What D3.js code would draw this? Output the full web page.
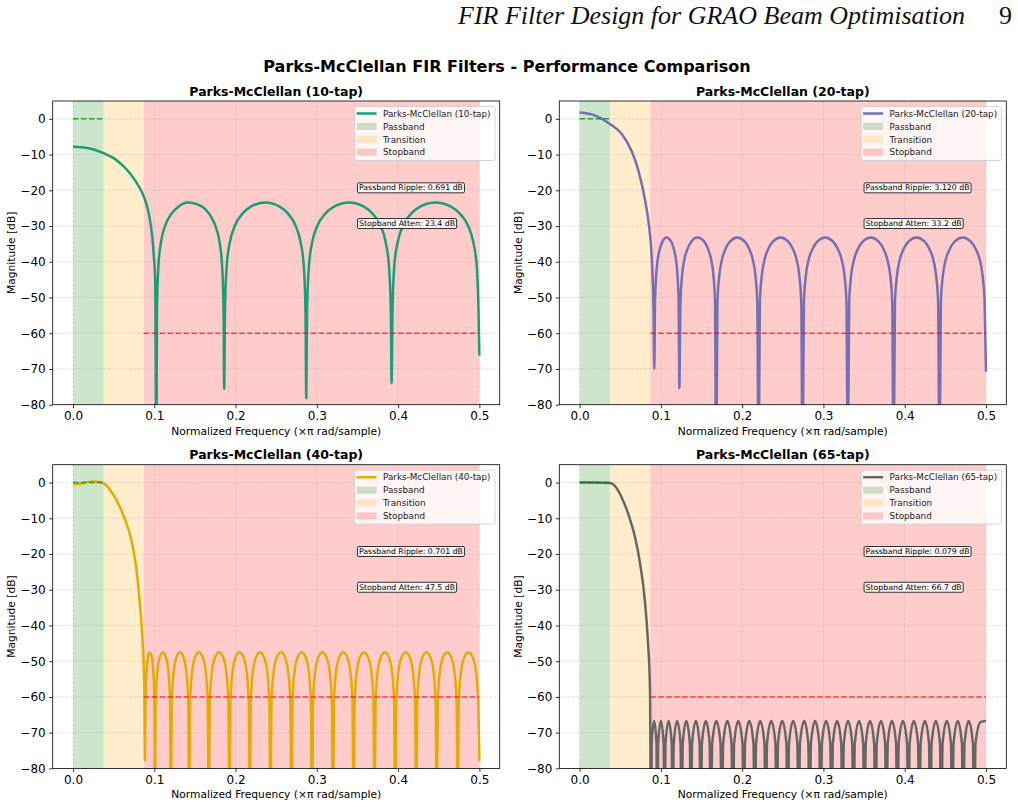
<!DOCTYPE html>
<html><head><meta charset="utf-8">
<script src="https://cdn.jsdelivr.net/npm/d3@7"></script>
<style>body{margin:0;background:#fff}svg{display:block}</style>
</head><body><svg id="c" width="1018" height="807"></svg>
<script>
// ---------- data ----------
const freqTicks = [0, 0.1, 0.2, 0.3, 0.4, 0.5];
const magTicks = [0, -10, -20, -30, -40, -50, -60, -70, -80];
const tapCounts = [10, 20, 40, 65];
const passRipple = ["0.691", "3.120", "0.701", "0.079"];
const stopAtten = ["23.4", "33.2", "47.5", "66.7"];
const passEdge = 0.0375, stopEdge = 0.087, bandEnd = 0.5, stopSpec = -60;

const tap10 = [[0,-7.8],[0.019,-8.2],[0.0377,-9.6],[0.05,-11],[0.06,-12.8],[0.07,-15.2],[0.078,-17.8],[0.085,-20.6],[0.09,-23.6],[0.094,-27.5],[0.097,-32],[0.0995,-38.5],[0.1012,-46],[0.1025,-100],
 [0.1033,-53.4],[0.105,-41.4],[0.1083,-34.4],[0.1134,-29.9],[0.1209,-26.6],[0.1301,-24.5],[0.141,-23.4],[0.1584,-24.5],[0.1676,-26.6],[0.1751,-29.9],[0.1802,-34.4],[0.1835,-41.4],[0.1852,-53.4],[0.186,-75.6],
 [0.187,-53.4],[0.189,-41.4],[0.1931,-34.4],[0.1991,-29.9],[0.2082,-26.6],[0.2193,-24.5],[0.2365,-23.4],[0.2537,-24.5],[0.2648,-26.6],[0.2739,-29.9],[0.2799,-34.4],[0.284,-41.4],[0.286,-53.4],[0.287,-78.2],
 [0.288,-53.4],[0.2902,-41.4],[0.2944,-34.4],[0.3007,-29.9],[0.3101,-26.6],[0.3217,-24.5],[0.3395,-23.4],[0.3573,-24.5],[0.3689,-26.6],[0.3783,-29.9],[0.3846,-34.4],[0.3888,-41.4],[0.391,-53.4],[0.392,-74],
 [0.3931,-53.4],[0.3952,-41.4],[0.3996,-34.4],[0.406,-29.9],[0.4158,-26.6],[0.4276,-24.5],[0.446,-23.4],[0.4644,-24.5],[0.4762,-26.6],[0.486,-29.9],[0.4924,-34.4],[0.4968,-41.4],[0.4989,-53.4],[0.5,-66.3]];

const tap20 = [[0,1.8],[0.008,1.6],[0.016,1.2],[0.0275,0],[0.0377,-1.5],[0.0521,-4.3],[0.0644,-9.2],[0.0726,-14.7],[0.0808,-23.1],[0.0857,-30.6],[0.089,-40],[0.091,-54],[0.0919,-70],
 [0.0928,-51.2],[0.0941,-44.2],[0.0959,-39.7],[0.0987,-36.4],[0.1021,-34.3],[0.1068,-33.2],[0.1125,-34.3],[0.1159,-36.4],[0.1187,-39.7],[0.1205,-44.2],[0.1218,-51.2],[0.1227,-75.4],
 [0.1241,-51.2],[0.1259,-44.2],[0.1286,-39.7],[0.1327,-36.4],[0.1376,-34.3],[0.1449,-33.2],[0.1531,-34.3],[0.158,-36.4],[0.1621,-39.7],[0.1648,-44.2],[0.1666,-51.2],[0.168,-100],
 [0.1696,-51.2],[0.1717,-44.2],[0.1748,-39.7],[0.1795,-36.4],[0.1852,-34.3],[0.1938,-33.2],[0.203,-34.3],[0.2087,-36.4],[0.2134,-39.7],[0.2165,-44.2],[0.2186,-51.2],[0.2202,-100],
 [0.2218,-51.2],[0.224,-44.2],[0.2272,-39.7],[0.2321,-36.4],[0.2381,-34.3],[0.2473,-33.2],[0.2564,-34.3],[0.2624,-36.4],[0.2673,-39.7],[0.2705,-44.2],[0.2727,-51.2],[0.2743,-100],
 [0.276,-51.2],[0.2782,-44.2],[0.2815,-39.7],[0.2866,-36.4],[0.2927,-34.3],[0.3022,-33.2],[0.3116,-34.3],[0.3177,-36.4],[0.3228,-39.7],[0.3261,-44.2],[0.3283,-51.2],[0.33,-100],
 [0.3317,-51.2],[0.3339,-44.2],[0.3373,-39.7],[0.3424,-36.4],[0.3486,-34.3],[0.3582,-33.2],[0.3677,-34.3],[0.3739,-36.4],[0.379,-39.7],[0.3824,-44.2],[0.3846,-51.2],[0.3863,-100],
 [0.388,-51.2],[0.3903,-44.2],[0.3936,-39.7],[0.3987,-36.4],[0.4049,-34.3],[0.4146,-33.2],[0.4242,-34.3],[0.4304,-36.4],[0.4355,-39.7],[0.4388,-44.2],[0.4411,-51.2],[0.4428,-100],
 [0.4445,-51.2],[0.4468,-44.2],[0.4502,-39.7],[0.4554,-36.4],[0.4617,-34.3],[0.4714,-33.2],[0.4811,-34.3],[0.4874,-36.4],[0.4926,-39.7],[0.496,-44.2],[0.4983,-51.2],[0.5,-70.8]];

const tap40 = [[0,-0.4],[0.008,-0.3],[0.016,0.05],[0.025,0.3],[0.032,0.15],[0.0377,-0.2],[0.0496,-3.4],[0.0619,-9.1],[0.0722,-16.5],[0.0784,-24.9],[0.0824,-34.3],[0.0857,-44.6],[0.0877,-57.7],[0.0886,-77.8],
 [0.0892,-61.5],[0.0904,-53.1],[0.0922,-49],[0.094,-47.5],[0.0971,-49],[0.0989,-53.1],[0.1001,-61.5],[0.1007,-100],
 [0.1017,-61.5],[0.1037,-53.1],[0.1066,-49],[0.1106,-47.5],[0.1145,-49],[0.1174,-53.1],[0.1194,-61.5],[0.1204,-100],
 [0.1215,-61.5],[0.1238,-53.1],[0.1272,-49],[0.1317,-47.5],[0.1361,-49],[0.1395,-53.1],[0.1418,-61.5],[0.1429,-100],
 [0.1441,-61.5],[0.1465,-53.1],[0.1501,-49],[0.155,-47.5],[0.1598,-49],[0.1634,-53.1],[0.1658,-61.5],[0.167,-100],
 [0.1683,-61.5],[0.1708,-53.1],[0.1747,-49],[0.1798,-47.5],[0.1848,-49],[0.1887,-53.1],[0.1912,-61.5],[0.1925,-100],
 [0.1937,-61.5],[0.1962,-53.1],[0.2,-49],[0.205,-47.5],[0.2099,-49],[0.2137,-53.1],[0.2162,-61.5],[0.2174,-100],
 [0.2187,-61.5],[0.2212,-53.1],[0.2251,-49],[0.2302,-47.5],[0.2352,-49],[0.2391,-53.1],[0.2416,-61.5],[0.2429,-100],
 [0.2442,-61.5],[0.2468,-53.1],[0.2506,-49],[0.2558,-47.5],[0.261,-49],[0.2648,-53.1],[0.2674,-61.5],[0.2687,-100],
 [0.27,-61.5],[0.2725,-53.1],[0.2763,-49],[0.2814,-47.5],[0.2864,-49],[0.2902,-53.1],[0.2927,-61.5],[0.294,-100],
 [0.2953,-61.5],[0.2979,-53.1],[0.3017,-49],[0.3069,-47.5],[0.3121,-49],[0.3159,-53.1],[0.3185,-61.5],[0.3198,-100],
 [0.3211,-61.5],[0.3236,-53.1],[0.3274,-49],[0.3325,-47.5],[0.3376,-49],[0.3414,-53.1],[0.3439,-61.5],[0.3452,-100],
 [0.3465,-61.5],[0.3491,-53.1],[0.3529,-49],[0.3581,-47.5],[0.3633,-49],[0.3671,-53.1],[0.3697,-61.5],[0.371,-100],
 [0.3723,-61.5],[0.3748,-53.1],[0.3786,-49],[0.3837,-47.5],[0.3888,-49],[0.3926,-53.1],[0.3951,-61.5],[0.3964,-100],
 [0.3977,-61.5],[0.4003,-53.1],[0.4041,-49],[0.4093,-47.5],[0.4145,-49],[0.4183,-53.1],[0.4209,-61.5],[0.4222,-100],
 [0.4235,-61.5],[0.426,-53.1],[0.4298,-49],[0.4349,-47.5],[0.4399,-49],[0.4437,-53.1],[0.4462,-61.5],[0.4475,-100],
 [0.4488,-61.5],[0.4514,-53.1],[0.4552,-49],[0.4604,-47.5],[0.4656,-49],[0.4694,-53.1],[0.472,-61.5],[0.4733,-100],
 [0.4746,-61.5],[0.4773,-53.1],[0.4813,-49],[0.4866,-47.5],[0.492,-49],[0.496,-53.1],[0.4987,-61.5],[0.5,-78]];

const tap65 = [[0,0],[0.01,0],[0.02,0],[0.03,-0.02],[0.0377,-0.1],[0.044,-1.1],[0.0522,-4.4],[0.0603,-9.1],[0.0685,-15.6],[0.0747,-23.1],[0.08,-32.4],[0.0841,-44.6],[0.0866,-57.7],[0.0878,-100],
 [0.0887,-73],[0.0917,-66.7],[0.0946,-73],[0.0955,-100],
 [0.0966,-73],[0.1,-66.7],[0.1034,-73],[0.1045,-100],
 [0.1057,-73],[0.1095,-66.7],[0.1133,-73],[0.1145,-100],
 [0.1158,-73],[0.12,-66.7],[0.1242,-73],[0.1255,-100],
 [0.1269,-73],[0.1313,-66.7],[0.1356,-73],[0.137,-100],
 [0.1384,-73],[0.143,-66.7],[0.1476,-73],[0.149,-100],
 [0.1505,-73],[0.1553,-66.7],[0.16,-73],[0.1615,-100],
 [0.1631,-73],[0.1683,-66.7],[0.1734,-73],[0.175,-100],
 [0.1766,-73],[0.1818,-66.7],[0.1869,-73],[0.1885,-100],
 [0.1901,-73],[0.1953,-66.7],[0.2004,-73],[0.202,-100],
 [0.2036,-73],[0.2088,-66.7],[0.2139,-73],[0.2155,-100],
 [0.2171,-73],[0.2223,-66.7],[0.2274,-73],[0.229,-100],
 [0.2306,-73],[0.2358,-66.7],[0.2409,-73],[0.2425,-100],
 [0.2441,-73],[0.2493,-66.7],[0.2544,-73],[0.256,-100],
 [0.2576,-73],[0.2628,-66.7],[0.2679,-73],[0.2695,-100],
 [0.2711,-73],[0.2763,-66.7],[0.2814,-73],[0.283,-100],
 [0.2846,-73],[0.2898,-66.7],[0.2949,-73],[0.2965,-100],
 [0.2981,-73],[0.3033,-66.7],[0.3084,-73],[0.31,-100],
 [0.3116,-73],[0.3168,-66.7],[0.3219,-73],[0.3235,-100],
 [0.3251,-73],[0.3303,-66.7],[0.3354,-73],[0.337,-100],
 [0.3386,-73],[0.3438,-66.7],[0.3489,-73],[0.3505,-100],
 [0.3521,-73],[0.3573,-66.7],[0.3624,-73],[0.364,-100],
 [0.3656,-73],[0.3708,-66.7],[0.3759,-73],[0.3775,-100],
 [0.3791,-73],[0.3843,-66.7],[0.3894,-73],[0.391,-100],
 [0.3926,-73],[0.3978,-66.7],[0.4029,-73],[0.4045,-100],
 [0.4061,-73],[0.4113,-66.7],[0.4164,-73],[0.418,-100],
 [0.4196,-73],[0.4248,-66.7],[0.4299,-73],[0.4315,-100],
 [0.4331,-73],[0.4383,-66.7],[0.4434,-73],[0.445,-100],
 [0.4466,-73],[0.4518,-66.7],[0.4569,-73],[0.4585,-100],
 [0.4601,-73],[0.4653,-66.7],[0.4704,-73],[0.472,-100],
 [0.4736,-73],[0.4788,-66.7],[0.4839,-73],[0.4855,-100],
 [0.4871,-73],[0.4935,-67],[0.5,-66.7]];

const seriesData = [tap10, tap20, tap40, tap65];
const seriesColors = ["#1b9e77", "#7570b3", "#e6ab02", "#666666"];

// ---------- layout ----------
const svg = d3.select("#c");
const FONT = "DejaVu Sans, Liberation Sans, Arial, sans-serif";
const PW = 447, PH = 303.7;
const origins = [[52.7, 101], [559.3, 101], [52.7, 464.7], [559.3, 464.7]];

svg.append("text").attr("x", 965).attr("y", 24).attr("text-anchor", "end")
  .attr("font-family", "Liberation Serif, Times New Roman, serif").attr("font-style", "italic")
  .attr("font-size", 26).attr("fill", "#111").text("FIR Filter Design for GRAO Beam Optimisation");
svg.append("text").attr("x", 1012).attr("y", 24).attr("text-anchor", "end")
  .attr("font-family", "Liberation Serif, Times New Roman, serif")
  .attr("font-size", 26).attr("fill", "#111").text("9");

svg.append("text").attr("x", 507).attr("y", 72).attr("text-anchor", "middle")
  .attr("font-family", FONT).attr("font-weight", "bold").attr("font-size", 16)
  .text("Parks-McClellan FIR Filters - Performance Comparison");

const x = d3.scaleLinear().domain([-0.025, 0.525]).range([0, PW]);
const y = d3.scaleLinear().domain([-80, 5]).range([PH, 0]);
const line = d3.line().x(d => x(d[0])).y(d => y(d[1])).curve(d3.curveMonotoneX);

seriesData.forEach((pts, i) => {
  const [ox, oy] = origins[i];
  const label = `Parks-McClellan (${tapCounts[i]}-tap)`;
  const g = svg.append("g").attr("transform", `translate(${ox},${oy})`);
  const cid = "clip" + i;
  g.append("clipPath").attr("id", cid).append("rect").attr("width", PW).attr("height", PH);
  const plot = g.append("g").attr("clip-path", `url(#${cid})`);

  const bands = [[0, passEdge, "green"], [passEdge, stopEdge, "orange"], [stopEdge, bandEnd, "red"]];
  plot.selectAll(".band").data(bands).join("rect")
    .attr("x", d => x(d[0])).attr("width", d => x(d[1]) - x(d[0]))
    .attr("y", 0).attr("height", PH).attr("fill", d => d[2]).attr("fill-opacity", 0.2);

  plot.selectAll(".gx").data(freqTicks).join("line")
    .attr("x1", d => x(d)).attr("x2", d => x(d)).attr("y1", 0).attr("y2", PH)
    .attr("stroke", "#b0b0b0").attr("stroke-opacity", 0.45).attr("stroke-width", 0.8).attr("stroke-dasharray", "2.96,1.28");
  plot.selectAll(".gy").data(magTicks).join("line")
    .attr("y1", d => y(d)).attr("y2", d => y(d)).attr("x1", 0).attr("x2", PW)
    .attr("stroke", "#b0b0b0").attr("stroke-opacity", 0.45).attr("stroke-width", 0.8).attr("stroke-dasharray", "2.96,1.28");

  plot.append("path").datum(pts).attr("d", line).attr("fill", "none")
    .attr("stroke", seriesColors[i]).attr("stroke-width", 2.5).attr("stroke-linejoin", "round");

  plot.append("line").attr("x1", x(0)).attr("x2", x(passEdge)).attr("y1", y(0)).attr("y2", y(0))
    .attr("stroke", "green").attr("stroke-opacity", 0.7).attr("stroke-width", 1.5).attr("stroke-dasharray", "5.55,2.4");
  plot.append("line").attr("x1", x(stopEdge)).attr("x2", x(bandEnd)).attr("y1", y(stopSpec)).attr("y2", y(stopSpec))
    .attr("stroke", "red").attr("stroke-opacity", 0.7).attr("stroke-width", 1.5).attr("stroke-dasharray", "5.55,2.4");

  const ax = g.append("g").attr("transform", `translate(0,${PH})`)
    .call(d3.axisBottom(x).tickValues(freqTicks).tickFormat(d3.format(".1f")).tickSize(3.5).tickPadding(3.5));
  const ay = g.append("g")
    .call(d3.axisLeft(y).tickValues(magTicks).tickFormat(d3.format("d")).tickSize(3.5).tickPadding(3.5));
  [ax, ay].forEach(a => {
    a.select(".domain").remove();
    a.selectAll("text").attr("font-family", FONT).attr("font-size", 12).attr("fill", "#000");
    a.selectAll("line").attr("stroke", "#000").attr("stroke-width", 0.8);
  });
  g.append("rect").attr("width", PW).attr("height", PH).attr("fill", "none").attr("stroke", "#000").attr("stroke-width", 0.8);

  g.append("text").attr("x", PW / 2).attr("y", PH + 30).attr("text-anchor", "middle")
    .attr("font-family", FONT).attr("font-size", 10.7).text("Normalized Frequency (×π rad/sample)");
  g.append("text").attr("transform", `translate(-37.5,${PH / 2}) rotate(-90)`).attr("text-anchor", "middle")
    .attr("font-family", FONT).attr("font-size", 10.7).text("Magnitude [dB]");
  g.append("text").attr("x", PW / 2).attr("y", -5.5).attr("text-anchor", "middle")
    .attr("font-family", FONT).attr("font-weight", "bold").attr("font-size", 12.5).text(label);

  [[`Passband Ripple: ${passRipple[i]} dB`, -20], [`Stopband Atten: ${stopAtten[i]} dB`, -30]].forEach(([t, v]) => {
    const ag = g.append("g");
    const r = ag.append("rect");
    const tx = ag.append("text").attr("x", x(0.35) + 1.5).attr("y", y(v)).attr("font-family", FONT).attr("font-size", 7.8).text(t);
    const bb = tx.node().getBBox();
    r.attr("x", bb.x - 1.5).attr("y", bb.y - 0.5).attr("width", bb.width + 3).attr("height", bb.height + 1)
      .attr("rx", 1.5).attr("fill", "#fff").attr("fill-opacity", 0.8).attr("stroke", "#000").attr("stroke-width", 0.8);
  });

  const lg = g.append("g");
  const lbox = lg.append("rect");
  const items = [[label, "line", seriesColors[i]], ["Passband", "patch", "green"], ["Transition", "patch", "orange"], ["Stopband", "patch", "red"]];
  let maxW = 0;
  items.forEach((it, k) => {
    const cy = 7 + k * 12.9;
    if (it[1] === "line") {
      lg.append("line").attr("x1", 2).attr("x2", 22).attr("y1", cy).attr("y2", cy).attr("stroke", it[2]).attr("stroke-width", 2.5);
    } else {
      lg.append("rect").attr("x", 2).attr("y", cy - 3.5).attr("width", 20).attr("height", 7).attr("fill", it[2]).attr("fill-opacity", 0.2);
    }
    const t = lg.append("text").attr("x", 28.5).attr("y", cy + 3.2).attr("font-family", FONT).attr("font-size", 8.8).attr("fill", "#222").text(it[0]);
    maxW = Math.max(maxW, t.node().getComputedTextLength());
  });
  const lw = 28.5 + maxW + 4.5;
  lbox.attr("x", 0).attr("y", 0).attr("width", lw).attr("height", 54).attr("rx", 2)
    .attr("fill", "#fff").attr("fill-opacity", 0.8).attr("stroke", "#cccccc").attr("stroke-width", 0.8);
  lg.attr("transform", `translate(${PW - 4.7 - lw},5.5)`);
});
</script></body></html>
